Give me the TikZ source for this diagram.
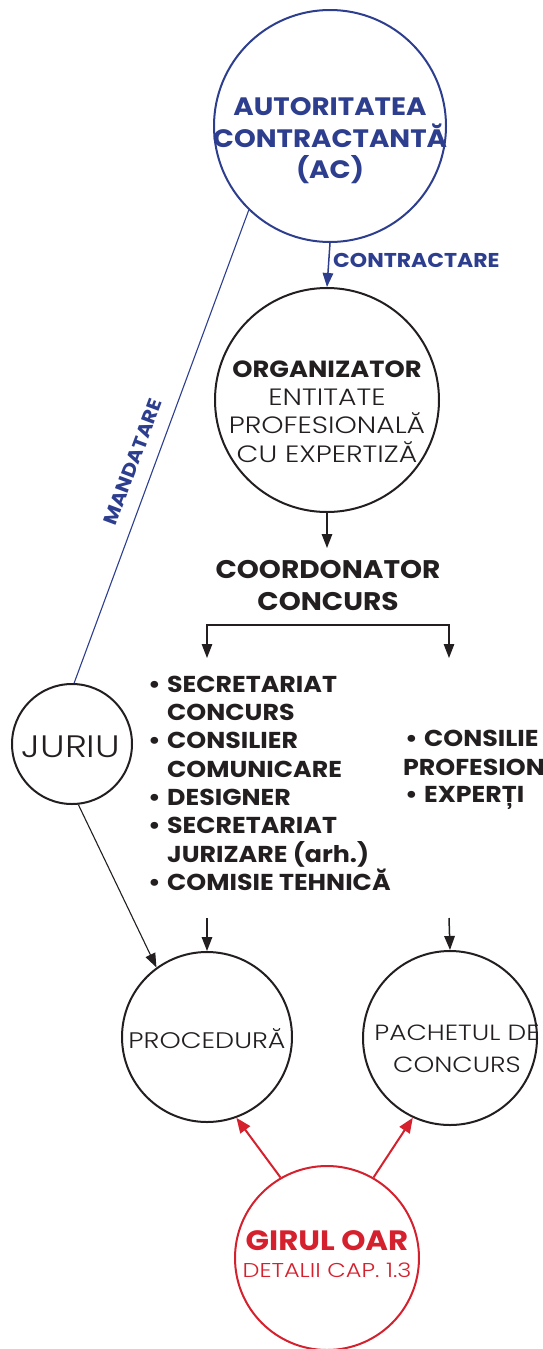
\documentclass[tikz,border=0pt]{standalone}
\usepackage{fontspec}
\setmainfont{Poppins}
\newfontfamily\boldfont{Poppins}[FakeStretch=1.1]
\newfontfamily\lightfont{Poppins Light}[FakeStretch=1.2]
\usetikzlibrary{arrows.meta}
\definecolor{acblue}{RGB}{45,62,143}
\definecolor{ink}{RGB}{35,31,32}
\definecolor{oarred}{RGB}{212,33,45}
\begin{document}
\begin{tikzpicture}[x=1pt,y=-1pt,
  ring/.style={circle,draw,line width=2pt,inner sep=0pt,minimum size=#1},
  tx/.style={inner sep=0pt,anchor=base},
  txl/.style={inner sep=0pt,anchor=base west},
  hb/.style={font=\boldfont\bfseries\fontsize{#1}{#1}\selectfont},
  hl/.style={font=\lightfont\fontsize{#1}{#1}\selectfont},
  tip/.style={-{Triangle[width=10.5pt,length=14pt]}},
  rtip/.style={-{Triangle[width=12pt,length=15pt]}},
  lst/.style={txl,hb=23,text=ink}]
\useasboundingbox (0,0) rectangle (542,1349);
\clip (0,0) rectangle (542,1349);
% circles
\node[ring=232,draw=acblue] (ac) at (330,126) {};
\node[ring=224,draw=ink] (org) at (327,400) {};
\node[ring=120,draw=ink] (jur) at (72,744) {};
\node[ring=170,draw=ink] (proc) at (207,1037) {};
\node[ring=174,draw=ink] (pach) at (450,1038) {};
\node[ring=184,draw=oarred] (oar) at (327,1258) {};
% AC text
\node[tx,hb=25.2,text=acblue] (ac1) at (330,115) {AUTORITATEA};
\node[tx,hb=25.2,text=acblue] (ac2) at (330,147) {CONTRACTANTĂ};
\node[tx,hb=25.2,text=acblue] (ac3) at (330,178) {(AC)};
% contractare
\draw[tip,acblue,line width=1.5pt] (ac.south) -- (org.north);
\node[txl,hb=20,text=acblue] (ctr) at (333,267) {CONTRACTARE};
% organizator
\node[tx,hb=23.4,text=ink] (or1) at (327,377) {ORGANIZATOR};
\node[tx,hl=23.6,text=ink] (or2) at (327,405) {ENTITATE};
\node[tx,hl=23.6,text=ink] (or3) at (327,433) {PROFESIONALĂ};
\node[tx,hl=23.6,text=ink] (or4) at (327,462) {CU EXPERTIZĂ};
% coordonator
\coordinate (c1) at (327,548);
\draw[tip,ink,line width=1.5pt] (org.south) -- (c1);
\node[tx,hb=25.5,text=ink] (co1) at (328,578) {COORDONATOR};
\node[tx,hb=25.5,text=ink] (co2) at (328,610) {CONCURS};
% bracket
\coordinate (bl) at (207,625);
\coordinate (br) at (449,625);
\coordinate (blt) at (207,658);
\coordinate (brt) at (449,658);
\draw[{Triangle[width=10.5pt,length=14pt]}-{Triangle[width=10.5pt,length=14pt]},ink,line width=1.3pt] (blt) -- (bl) -- (br) -- (brt);
% left list
\node[lst] (l1) at (148,692) {\makebox[19pt][l]{•}SECRETARIAT};
\node[lst] (l2) at (167,720) {CONCURS};
\node[lst] (l3) at (148,748) {\makebox[19pt][l]{•}CONSILIER};
\node[lst] (l4) at (167,777) {COMUNICARE};
\node[lst] (l5) at (148,805) {\makebox[19pt][l]{•}DESIGNER};
\node[lst] (l6) at (148,833) {\makebox[19pt][l]{•}SECRETARIAT};
\node[lst] (l7) at (167,862) {JURIZARE (arh.)};
\node[lst] (l8) at (148,890) {\makebox[19pt][l]{•}COMISIE TEHNICĂ};
% right list
\node[lst] (r1) at (405,746) {\makebox[19pt][l]{•}CONSILIE};
\node[lst] (r2) at (403,775) {PROFESION};
\node[lst] (r3) at (405,802) {\makebox[19pt][l]{•}EXPERȚI};
% arrows to bottom circles
\coordinate (pa) at (207,918);
\coordinate (pb) at (449,918);
\draw[tip,ink,line width=1.5pt] (pa) -- (proc.north);
\draw[tip,ink,line width=1.5pt] (pb) -- (pach.north);
% juriu
\node[tx,hl=31,text=ink] (ju) at (71,757) {JURIU};
\draw[acblue,line width=1.1pt] (ac.226) -- (jur.88);
\node[hb=19,text=acblue,inner sep=0pt,rotate=69.5] (mand) at (133,462) {MANDATARE};
\draw[tip,ink,line width=1.1pt] (jur.276) -- (proc.126);
% bottom circle texts
\node[tx,hl=22.5,text=ink] (pr) at (207,1048) {PROCEDURĂ};
\node[tx,hl=22,text=ink] (pc1) at (457,1040) {PACHETUL DE};
\node[tx,hl=22,text=ink] (pc2) at (457,1072) {CONCURS};
% OAR
\node[tx,hb=28,text=oarred] (g1) at (327,1250) {GIRUL OAR};
\node[tx,hl=20,text=oarred] (g2) at (327,1277) {DETALII CAP. 1.3};
\draw[rtip,oarred,line width=2pt] (oar.120) -- (proc.290);
\draw[rtip,oarred,line width=2pt] (oar.60) -- (pach.245);
\end{tikzpicture}
\end{document}
